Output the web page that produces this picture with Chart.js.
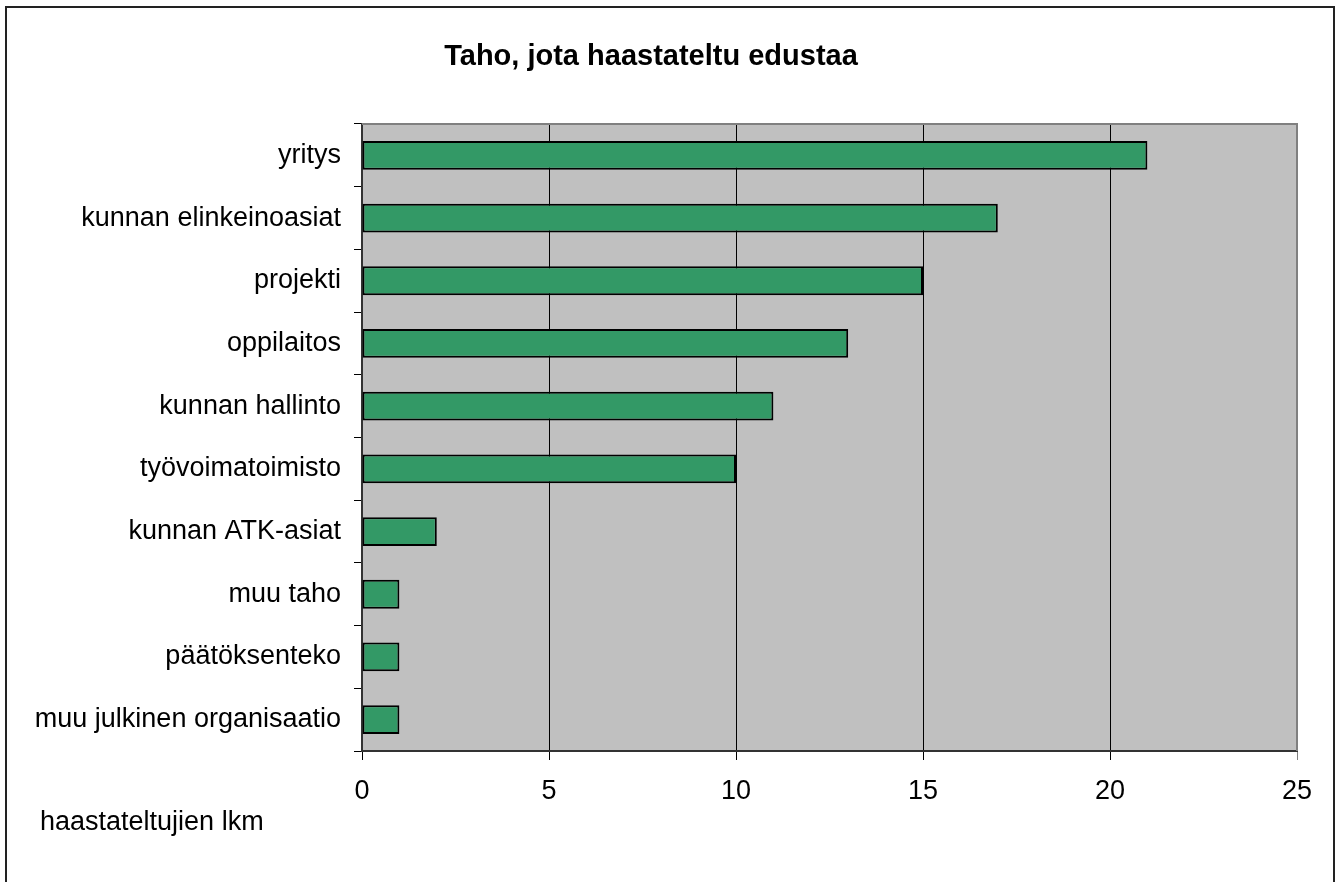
<!DOCTYPE html>
<html>
<head>
<meta charset="utf-8">
<script src="https://cdn.jsdelivr.net/npm/chart.js@4/dist/chart.umd.min.js"></script>
<style>
    body { margin: 0; background: #fff; }
    canvas { display: block; }
</style>
</head>
<body>
<canvas id="tahoChart" width="1341" height="882"></canvas>
<script>
// Data
const categories = [
    'yritys',
    'kunnan elinkeinoasiat',
    'projekti',
    'oppilaitos',
    'kunnan hallinto',
    'työvoimatoimisto',
    'kunnan ATK-asiat',
    'muu taho',
    'päätöksenteko',
    'muu julkinen organisaatio'
];
const counts = [21, 17, 15, 13, 11, 10, 2, 1, 1, 1];
const xTicks = [0, 5, 10, 15, 20, 25];

const chartTitle = 'Taho, jota haastateltu edustaa';
const axisTitle = 'haastateltujien lkm';

const fontFamily = "'Liberation Sans', Arial, sans-serif";

// Grey plot background, frame and free-standing texts
const framePlugin = {
    id: 'frame',
    beforeDraw(chart) {
        const { ctx, chartArea } = chart;
        ctx.save();
        ctx.fillStyle = '#fff';
        ctx.fillRect(0, 0, chart.width, chart.height);
        ctx.fillStyle = '#C0C0C0';
        ctx.fillRect(chartArea.left, chartArea.top,
            chartArea.right - chartArea.left, chartArea.bottom - chartArea.top);
        ctx.restore();
    },
    afterDraw(chart) {
        const { ctx, chartArea } = chart;
        ctx.save();
        // plot area top and right edge
        ctx.strokeStyle = '#808080';
        ctx.lineWidth = 2;
        ctx.beginPath();
        ctx.moveTo(chartArea.left, chartArea.top);
        ctx.lineTo(chartArea.right, chartArea.top);
        ctx.lineTo(chartArea.right, chartArea.bottom);
        ctx.stroke();

        // outer border
        ctx.strokeStyle = '#222';
        ctx.lineWidth = 2;
        ctx.strokeRect(6, 7, 1328, 900);

        // title
        ctx.fillStyle = '#000';
        ctx.font = 'bold 29px ' + fontFamily;
        ctx.textAlign = 'center';
        ctx.textBaseline = 'alphabetic';
        ctx.fillText(chartTitle, 651, 65);

        // axis title
        ctx.font = '27px ' + fontFamily;
        ctx.textAlign = 'left';
        ctx.fillText(axisTitle, 40, 830);
        ctx.restore();
    }
};

const ctx = document.getElementById('tahoChart').getContext('2d');
new Chart(ctx, {
    type: 'bar',
    data: {
        labels: categories,
        datasets: [{
            data: counts,
            backgroundColor: '#339966',
            borderColor: '#000',
            borderWidth: 2,
            borderSkipped: false,
            barPercentage: 0.46,
            categoryPercentage: 1
        }]
    },
    options: {
        indexAxis: 'y',
        responsive: false,
        animation: false,
        layout: {
            padding: { left: 0, top: 124, right: 44, bottom: 71 }
        },
        plugins: {
            legend: { display: false },
            title: { display: false },
            tooltip: { enabled: false }
        },
        scales: {
            y: {
                afterFit(scale) { scale.width = 362; },
                grid: {
                    offset: true,
                    drawOnChartArea: false,
                    drawTicks: true,
                    tickLength: 8,
                    color: '#000',
                    lineWidth: 1
                },
                border: { display: true, color: '#333', width: 2 },
                ticks: {
                    color: '#000',
                    padding: 13,
                    font: { family: fontFamily, size: 27 }
                }
            },
            x: {
                min: 0,
                max: 25,
                afterFit(scale) { scale.height = 60; },
                afterBuildTicks(scale) {
                    scale.ticks = xTicks.map(v => ({ value: v }));
                },
                grid: {
                    drawOnChartArea: true,
                    drawTicks: true,
                    tickLength: 9,
                    lineWidth: 1,
                    color: (c) => (c.tick && c.tick.value === 25) ? '#808080' : '#000'
                },
                border: { display: true, color: '#333', width: 2 },
                ticks: {
                    color: '#000',
                    padding: 15,
                    maxRotation: 0,
                    font: { family: fontFamily, size: 27 }
                }
            }
        }
    },
    plugins: [framePlugin]
});
</script>
</body>
</html>
